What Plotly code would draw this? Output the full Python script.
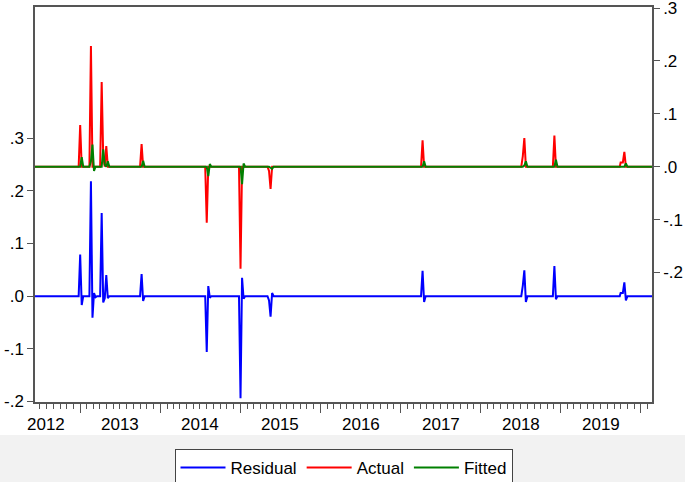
import plotly.graph_objects as go

# weekly observations, only where the series leave the zero line (plus the flanking zeros)
dates = [
    "2012-06-09",
    "2012-12-25", "2013-01-01", "2013-01-08", "2013-01-15",
    "2013-02-12", "2013-02-19", "2013-02-26", "2013-03-05", "2013-03-12", "2013-03-19",
    "2013-04-02", "2013-04-09", "2013-04-16", "2013-04-23", "2013-04-30", "2013-05-07", "2013-05-14",
    "2013-10-01", "2013-10-08", "2013-10-15", "2013-10-22",
    "2014-07-25", "2014-08-01", "2014-08-08", "2014-08-15", "2014-08-22",
    "2014-12-26", "2015-01-02", "2015-01-09", "2015-01-16", "2015-01-23",
    "2015-05-05", "2015-05-12", "2015-05-19", "2015-05-26", "2015-06-02",
    "2017-04-04", "2017-04-11", "2017-04-18", "2017-04-25",
    "2018-07-05", "2018-07-12", "2018-07-19", "2018-07-26", "2018-08-02",
    "2018-11-26", "2018-12-03", "2018-12-10", "2018-12-17",
    "2019-09-27", "2019-10-01", "2019-10-11", "2019-10-18", "2019-10-25", "2019-11-01",
    "2020-02-21",
]
actual = [
    0.0,
    0.0, 0.079, 0.0, 0.0,
    0.0, 0.228, 0.0, 0.0, 0.0, 0.0,
    0.0, 0.160, 0.020, 0.0, 0.039, 0.0, 0.0,
    0.0, 0.043, 0.0, 0.0,
    0.0, -0.106, 0.0, 0.0, 0.0,
    0.0, -0.193, 0.0, 0.0, 0.0,
    0.0, -0.008, -0.042, 0.0, 0.0,
    0.0, 0.050, 0.0, 0.0,
    0.0, 0.020, 0.054, 0.0, 0.0,
    0.0, 0.059, 0.0, 0.0,
    0.0, 0.008, 0.008, 0.028, 0.0, 0.0,
    0.0,
]
fitted = [
    0.0,
    0.0, 0.0, 0.018, 0.0,
    0.0, 0.010, 0.042, -0.008, 0.0, 0.0,
    0.0, 0.0, 0.033, 0.004, 0.0, 0.010, 0.0,
    0.0, 0.0, 0.011, 0.0,
    0.0, 0.0, -0.018, 0.005, 0.0,
    0.0, 0.0, -0.033, 0.006, 0.0,
    0.0, 0.0, -0.002, -0.004, 0.0,
    0.0, 0.0, 0.010, 0.0,
    0.0, 0.0, 0.002, 0.010, 0.0,
    0.0, 0.0, 0.013, 0.0,
    0.0, 0.0, 0.0, 0.0, 0.006, 0.0,
    0.0,
]
residual = [
    0.0,
    0.0, 0.079, -0.017, 0.0,
    0.0, 0.218, -0.041, 0.006, -0.002, 0.0,
    0.0, 0.158, -0.012, -0.004, 0.040, -0.004, 0.0,
    0.0, 0.042, -0.009, 0.0,
    0.0, -0.106, 0.019, -0.003, 0.0,
    0.0, -0.194, 0.035, -0.005, 0.0,
    0.0, -0.008, -0.039, 0.006, 0.0,
    0.0, 0.048, -0.011, 0.0,
    0.0, 0.020, 0.049, -0.011, 0.0,
    0.0, 0.057, -0.006, 0.0,
    0.0, 0.006, 0.006, 0.026, -0.008, 0.0,
    0.0,
]
se_band = [0.019, -0.019]

tick_vals = [-0.2, -0.1, 0.0, 0.1, 0.2, 0.3]
tick_text = ["-.2", "-.1", ".0", ".1", ".2", ".3"]
year_labels = ["2012", "2013", "2014", "2015", "2016", "2017", "2018", "2019"]
year_label_dates = ["2012-07-28", "2013-07-02", "2014-07-02", "2015-07-02",
                    "2016-07-02", "2017-07-02", "2018-07-02", "2019-07-02"]

FONT = "Liberation Sans, Arial, sans-serif"
AXIS = "#555555"

fig = go.Figure()
fig.add_trace(go.Scatter(x=dates, y=residual, name="Residual", mode="lines",
                         line={"color": "#0000FF", "width": 2}, yaxis="y"))
fig.add_trace(go.Scatter(x=dates, y=actual, name="Actual", mode="lines",
                         line={"color": "#FF0000", "width": 2}, yaxis="y2"))
fig.add_trace(go.Scatter(x=dates, y=fitted, name="Fitted", mode="lines",
                         line={"color": "#008000", "width": 2}, yaxis="y2"))

for v in se_band:
    fig.add_hline(y=v, yref="y", line={"color": "#C8C8C8", "width": 1, "dash": "dash"}, layer="below")

annotations = [
    {"x": d, "y": -0.058, "xref": "x", "yref": "paper", "text": t, "showarrow": False,
     "yanchor": "middle", "xanchor": "center", "font": {"size": 17, "color": "black"}}
    for d, t in zip(year_label_dates, year_labels)
]

fig.update_layout(
    width=685,
    height=482,
    margin={"l": 35, "r": 33, "t": 7, "b": 80, "autoexpand": False},
    paper_bgcolor="white",
    plot_bgcolor="white",
    font={"family": FONT, "size": 17, "color": "black"},
    showlegend=True,
    legend={
        "orientation": "h", "x": 0.5, "xanchor": "center", "y": -0.119, "yanchor": "top",
        "bgcolor": "white", "bordercolor": "#444444", "borderwidth": 1,
        "font": {"size": 17}, "itemwidth": 45,
    },
    annotations=annotations,
    shapes=[{
        "type": "rect", "xref": "paper", "yref": "paper", "x0": -0.1, "x1": 1.1,
        "y0": -0.3, "y1": -0.0835, "fillcolor": "#F2F2F2", "line": {"width": 0}, "layer": "below",
    }],
    xaxis={
        "type": "date", "range": ["2012-06-09", "2020-02-21"], "automargin": False,
        "showgrid": False, "zeroline": False,
        "showline": True, "linecolor": AXIS, "linewidth": 1.5, "mirror": True,
        "tickmode": "linear", "tick0": "2013-01-01", "dtick": "M12",
        "ticks": "outside", "ticklen": 9, "tickcolor": AXIS, "tickwidth": 1,
        "showticklabels": False,
        "minor": {"ticks": "outside", "ticklen": 5, "tickcolor": AXIS, "dtick": "M1",
                  "tick0": "2012-01-01", "showgrid": False},
    },
    yaxis={
        "range": [-0.201, 0.549], "tickmode": "array", "tickvals": tick_vals, "ticktext": tick_text,
        "automargin": False, "ticklabeloverflow": "allow",
        "showgrid": False, "zeroline": False, "showline": True, "linecolor": AXIS, "linewidth": 1.5,
        "ticks": "outside", "ticklen": 6, "tickcolor": AXIS, "tickfont": {"size": 17},
    },
    yaxis2={
        "range": [-0.445, 0.302], "tickmode": "array", "tickvals": tick_vals, "ticktext": tick_text,
        "overlaying": "y", "side": "right", "automargin": False, "ticklabeloverflow": "allow",
        "showgrid": False, "zeroline": False, "showline": True, "linecolor": AXIS, "linewidth": 1.5,
        "ticks": "outside", "ticklen": 6, "tickcolor": AXIS, "tickfont": {"size": 17},
    },
)

# the browser's default 8px body margin would push the 685x482 figure off the window
fig.write_html("out.html", config={"displayModeBar": False},
               post_script="document.body.style.margin = '0';")
